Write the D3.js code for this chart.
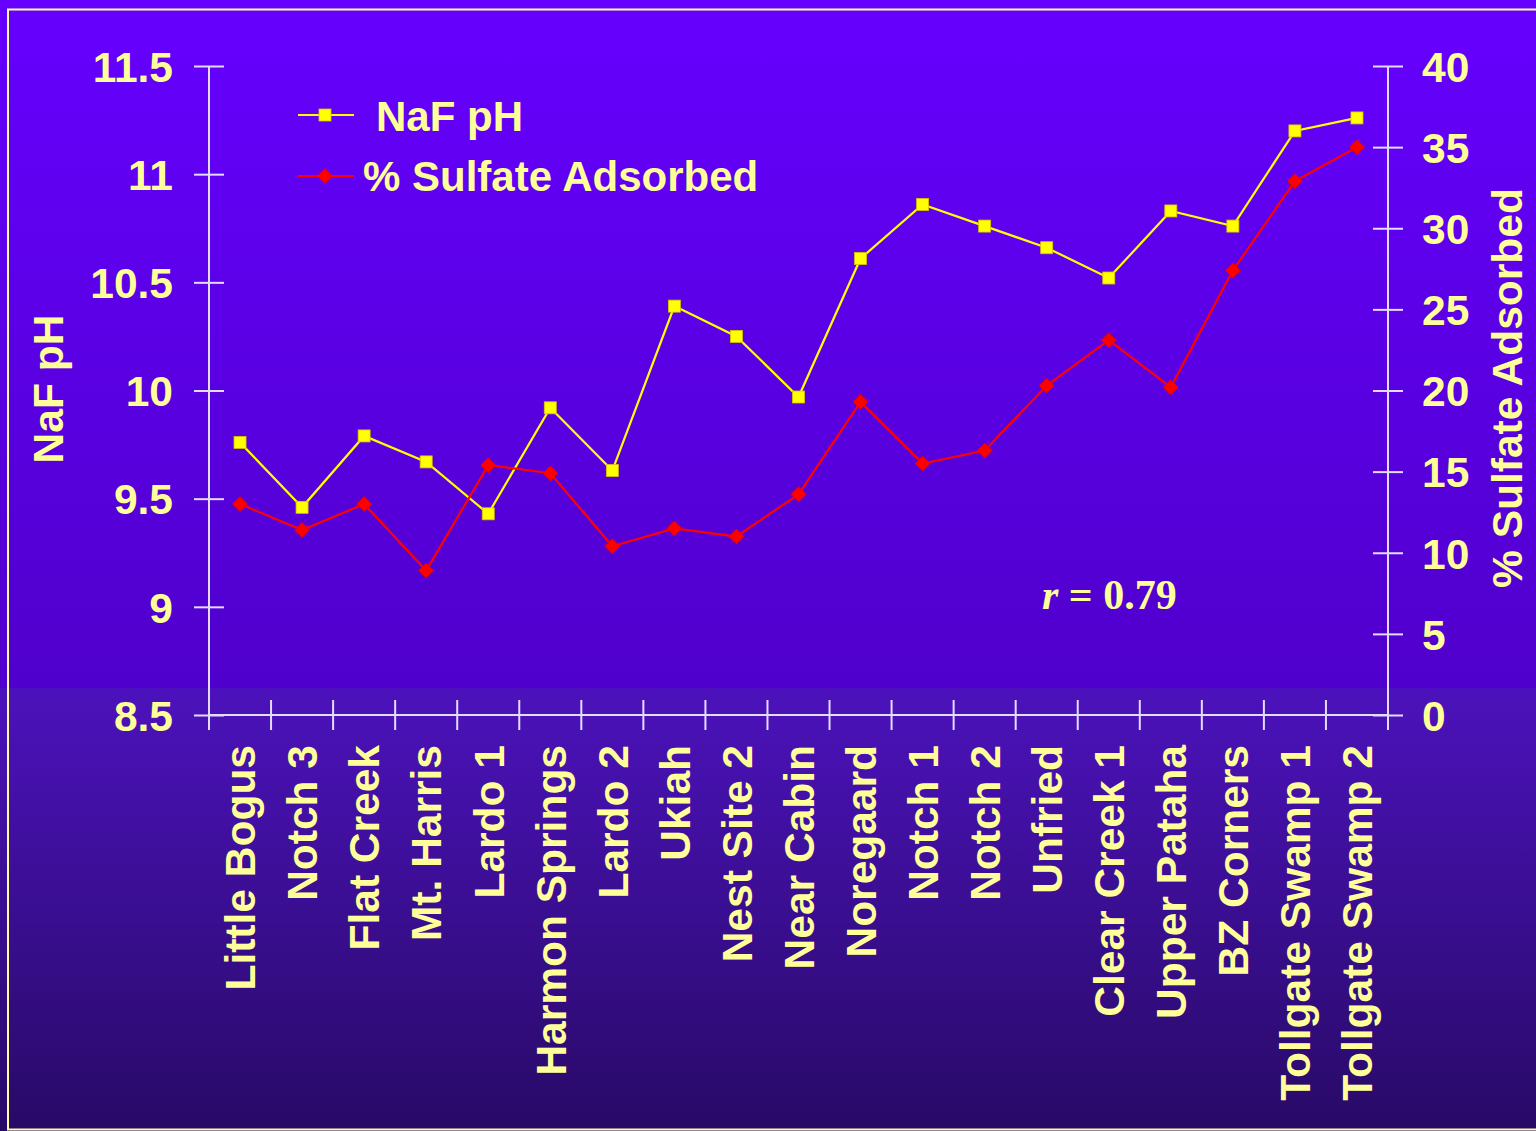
<!DOCTYPE html>
<html>
<head>
<meta charset="utf-8">
<script src="https://cdn.jsdelivr.net/npm/d3@7"></script>
<style>
  html, body { margin: 0; padding: 0; background: #2a0a6a; }
  svg { display: block; }
</style>
</head>
<body>
<svg id="chart" width="1536" height="1131"></svg>
<script>
// Sampling sites along the x axis
const sites = [
  "Little Bogus", "Notch 3", "Flat Creek", "Mt. Harris", "Lardo 1",
  "Harmon Springs", "Lardo 2", "Ukiah", "Nest Site 2", "Near Cabin",
  "Noregaard", "Notch 1", "Notch 2", "Unfried", "Clear Creek 1",
  "Upper Pataha", "BZ Corners", "Tollgate Swamp 1", "Tollgate Swamp 2"
];

// NaF pH per site (left axis)
const nafPH = [
  9.76, 9.46, 9.79, 9.67, 9.43,
  9.92, 9.63, 10.39, 10.25, 9.97,
  10.61, 10.86, 10.76, 10.66, 10.52,
  10.83, 10.76, 11.20, 11.26
];

// Percent sulfate adsorbed per site (right axis)
const sulfateAdsorbed = [
  13.0, 11.4, 13.0, 8.9, 15.4,
  14.9, 10.4, 11.5, 11.0, 13.6,
  19.3, 15.5, 16.3, 20.3, 23.1,
  20.2, 27.4, 32.9, 35.0
];

// Tick values for both vertical axes
const phTicks = [8.5, 9, 9.5, 10, 10.5, 11, 11.5];
const sulfateTicks = [0, 5, 10, 15, 20, 25, 30, 35, 40];

const correlationLabel = "0.79";

const W = 1536, H = 1131;
const plot = { left: 209, right: 1388, top: 66, bottom: 715 };

const textColor = "#ffff99";
const axisColor = "#e4dcff";
const sans = "'Liberation Sans', Arial, sans-serif";
const serif = "'Liberation Serif', 'Times New Roman', serif";
const fs = 42.5;

const svg = d3.select("#chart");

// Background: violet fading to deep indigo
const defs = svg.append("defs");
const grad = defs.append("linearGradient")
  .attr("id", "bg").attr("x1", 0).attr("y1", 0).attr("x2", 0).attr("y2", 1);
grad.append("stop").attr("offset", 0).attr("stop-color", "#6600ff");
grad.append("stop").attr("offset", 0.608).attr("stop-color", "#5000cc");
grad.append("stop").attr("offset", 0.609).attr("stop-color", "#4c12bc");
grad.append("stop").attr("offset", 1).attr("stop-color", "#280a66");

svg.append("rect").attr("width", W).attr("height", H).attr("fill", "url(#bg)");

// Frame
svg.append("rect")
  .attr("x", 8).attr("y", 9.5).attr("width", 1560).attr("height", 1120)
  .attr("fill", "none").attr("stroke", "#ffffaa").attr("stroke-width", 2);

// Scales
const x = d3.scaleBand().domain(sites).range([plot.left, plot.right]).padding(0);
const yL = d3.scaleLinear().domain([8.5, 11.5]).range([plot.bottom, plot.top]);
const yR = d3.scaleLinear().domain([0, 40]).range([plot.bottom, plot.top]);

const tickHalf = 15;

// Left axis
const gL = svg.append("g").attr("transform", `translate(${plot.left},0)`)
  .call(d3.axisLeft(yL).tickValues(phTicks).tickSize(tickHalf).tickPadding(0).tickFormat(d => String(d)));
gL.select(".domain").remove();
gL.append("line").attr("x1", 0).attr("x2", 0).attr("y1", plot.top).attr("y2", plot.bottom)
  .attr("stroke", axisColor).attr("stroke-width", 2);
gL.selectAll(".tick line").attr("x1", -tickHalf).attr("x2", tickHalf)
  .attr("stroke", axisColor).attr("stroke-width", 2);
gL.selectAll(".tick text")
  .attr("x", -36).attr("dy", "0.36em")
  .attr("fill", textColor).attr("font-family", sans).attr("font-weight", "bold")
  .attr("font-size", fs).attr("text-anchor", "end");

// Right axis
const gR = svg.append("g").attr("transform", `translate(${plot.right},0)`)
  .call(d3.axisRight(yR).tickValues(sulfateTicks).tickSize(tickHalf).tickPadding(0));
gR.select(".domain").remove();
gR.append("line").attr("x1", 0).attr("x2", 0).attr("y1", plot.top).attr("y2", plot.bottom)
  .attr("stroke", axisColor).attr("stroke-width", 2);
gR.selectAll(".tick line").attr("x1", -tickHalf).attr("x2", tickHalf)
  .attr("stroke", axisColor).attr("stroke-width", 2);
gR.selectAll(".tick text")
  .attr("x", 34).attr("dy", "0.36em")
  .attr("fill", textColor).attr("font-family", sans).attr("font-weight", "bold")
  .attr("font-size", fs).attr("text-anchor", "start");

// Bottom axis with category labels
const gB = svg.append("g").attr("transform", `translate(0,${plot.bottom})`)
  .call(d3.axisBottom(x).tickSize(0).tickPadding(0));
gB.select(".domain").remove();
gB.append("line").attr("x1", plot.left).attr("x2", plot.right).attr("y1", 0).attr("y2", 0)
  .attr("stroke", axisColor).attr("stroke-width", 2);
// Boundary ticks between categories
const boundaries = sites.map(s => x(s)).concat([x(sites[sites.length - 1]) + x.bandwidth()]);
gB.selectAll("line.bound").data(boundaries).join("line").attr("class", "bound")
  .attr("x1", d => d).attr("x2", d => d).attr("y1", -tickHalf).attr("y2", tickHalf)
  .attr("stroke", axisColor).attr("stroke-width", 2);
gB.selectAll(".tick text")
  .attr("transform", "rotate(-90)")
  .attr("x", -30).attr("y", 0).attr("dy", "0.36em")
  .attr("text-anchor", "end")
  .attr("fill", textColor).attr("font-family", sans).attr("font-weight", "bold")
  .attr("font-size", fs);

const cx = d => x(d) + x.bandwidth() / 2;

// NaF pH series
const phLine = d3.line().x((d, i) => cx(sites[i])).y(d => yL(d));
svg.append("path").datum(nafPH).attr("d", phLine)
  .attr("fill", "none").attr("stroke", "#ffff00").attr("stroke-width", 2.2);

// Sulfate series
const sLine = d3.line().x((d, i) => cx(sites[i])).y(d => yR(d));
svg.append("path").datum(sulfateAdsorbed).attr("d", sLine)
  .attr("fill", "none").attr("stroke", "#ff0000").attr("stroke-width", 2.2);

const sq = 12, dm = 7.5;
svg.append("g").selectAll("rect").data(nafPH).join("rect")
  .attr("x", (d, i) => cx(sites[i]) - sq / 2).attr("y", d => yL(d) - sq / 2)
  .attr("width", sq).attr("height", sq)
  .attr("fill", "#ffff00").attr("stroke", "#d8c400").attr("stroke-width", 0.8);

const diamond = (px, py) => `M${px},${py - dm}L${px + dm},${py}L${px},${py + dm}L${px - dm},${py}Z`;
svg.append("g").selectAll("path").data(sulfateAdsorbed).join("path")
  .attr("d", (d, i) => diamond(cx(sites[i]), yR(d)))
  .attr("fill", "#ff0000").attr("stroke", "#e00000").attr("stroke-width", 0.8);

// Axis titles
svg.append("text")
  .attr("transform", "translate(63,389) rotate(-90)")
  .attr("text-anchor", "middle")
  .attr("fill", textColor).attr("font-family", sans).attr("font-weight", "bold").attr("font-size", fs)
  .text("NaF pH");
svg.append("text")
  .attr("transform", "translate(1522,388) rotate(-90)")
  .attr("text-anchor", "middle")
  .attr("fill", textColor).attr("font-family", sans).attr("font-weight", "bold").attr("font-size", fs)
  .text("% Sulfate Adsorbed");

// Legend
const legend = svg.append("g");
legend.append("line").attr("x1", 298).attr("x2", 354).attr("y1", 115).attr("y2", 115)
  .attr("stroke", "#ffff00").attr("stroke-width", 2.2);
legend.append("rect").attr("x", 325 - sq / 2).attr("y", 115 - sq / 2).attr("width", sq).attr("height", sq)
  .attr("fill", "#ffff00").attr("stroke", "#d8c400").attr("stroke-width", 0.8);
legend.append("text").attr("x", 376).attr("y", 131)
  .attr("fill", textColor).attr("font-family", sans).attr("font-weight", "bold").attr("font-size", 42)
  .text("NaF pH");
legend.append("line").attr("x1", 298).attr("x2", 354).attr("y1", 176).attr("y2", 176)
  .attr("stroke", "#ff0000").attr("stroke-width", 2.2);
legend.append("path").attr("d", diamond(325, 176))
  .attr("fill", "#ff0000").attr("stroke", "#e00000").attr("stroke-width", 0.8);
legend.append("text").attr("x", 363).attr("y", 191)
  .attr("fill", textColor).attr("font-family", sans).attr("font-weight", "bold").attr("font-size", 42)
  .text("% Sulfate Adsorbed");

// Correlation annotation
const rText = svg.append("text").attr("x", 1042).attr("y", 609)
  .attr("fill", textColor).attr("font-family", serif).attr("font-weight", "bold").attr("font-size", 42);
rText.append("tspan").attr("font-style", "italic").text("r");
rText.append("tspan").text(" = " + correlationLabel);
</script>
</body>
</html>
